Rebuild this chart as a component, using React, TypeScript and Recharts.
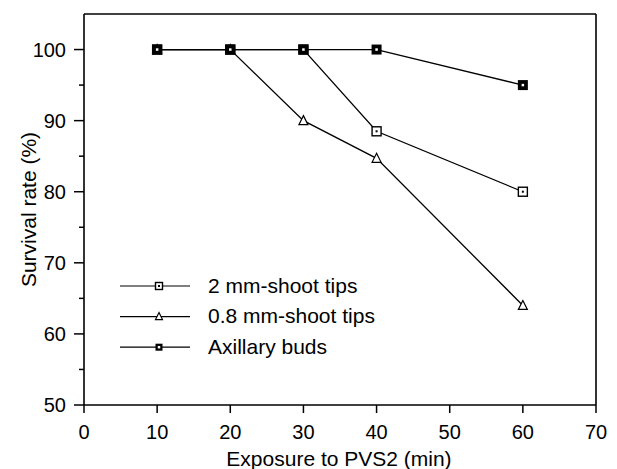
import {
  Label,
  Legend,
  Line,
  LineChart,
  ReferenceLine,
  XAxis,
  YAxis,
} from "recharts";

const FONT = "'Liberation Sans', Arial, Helvetica, sans-serif";

// exposure time to PVS2 (min)
const exposure = [10, 20, 30, 40, 60];
// survival rate (%)
const shootTips2mm = [100, 100, 100, 88.5, 80];
const shootTips08mm = [100, 100, 90, 84.7, 64];
const axillaryBuds = [100, 100, 100, 100, 95];

const xTicks = [0, 10, 20, 30, 40, 50, 60, 70];
const yTicks = [50, 55, 60, 65, 70, 75, 80, 85, 90, 95, 100];

const data = exposure.map((x, i) => ({
  x,
  shoot2: shootTips2mm[i],
  shoot08: shootTips08mm[i],
  buds: axillaryBuds[i],
}));

type Kind = "open" | "triangle" | "filled";

const legendItems: { name: string; kind: Kind }[] = [
  { name: "2 mm-shoot tips", kind: "open" },
  { name: "0.8 mm-shoot tips", kind: "triangle" },
  { name: "Axillary buds", kind: "filled" },
];

function Mark({ kind, cx, cy, size }: { kind: Kind; cx: number; cy: number; size: number }) {
  const h = size / 2;
  if (kind === "triangle") {
    return (
      <path
        d={`M${cx},${cy - h - 0.5} L${cx + h},${cy + h - 0.5} L${cx - h},${cy + h - 0.5} Z`}
        fill="#fff"
        stroke="#000"
        strokeWidth={1.2}
      />
    );
  }
  if (kind === "open") {
    return (
      <g>
        <rect x={cx - h} y={cy - h} width={size} height={size} fill="#fff" stroke="#000" strokeWidth={1.4} />
        <rect x={cx - 1} y={cy - 1} width={2} height={2} fill="#000" />
      </g>
    );
  }
  return (
    <g>
      <rect x={cx - h} y={cy - h} width={size} height={size} fill="#000" />
      <rect x={cx - 1.25} y={cy - 1.25} width={2.5} height={2.5} fill="#fff" />
    </g>
  );
}

const dotFor = (kind: Kind, size: number) => (p: any) => {
  if (p.cx == null || p.cy == null) return <g key={p.key} />;
  return (
    <g key={p.key}>
      <Mark kind={kind} cx={p.cx} cy={p.cy} size={size} />
    </g>
  );
};

function YTick(props: any) {
  const { x, y, payload } = props;
  const major = payload.value % 10 === 0;
  return (
    <g>
      <line x1={x - (major ? 10 : 5)} x2={x} y1={y} y2={y} stroke="#000" strokeWidth={1.5} />
      {major && (
        <text x={x - 18} y={y + 7} textAnchor="end" fontSize={20} fontFamily={FONT} fill="#000">
          {payload.value}
        </text>
      )}
    </g>
  );
}

function LegendBox() {
  return (
    <svg width={280} height={95} style={{ display: "block" }}>
      {legendItems.map((it, i) => {
        const cy = 15 + i * 30.6;
        return (
          <g key={it.name}>
            <line x1={2} x2={72} y1={cy} y2={cy} stroke="#000" strokeWidth={1.2} />
            <Mark kind={it.kind} cx={41} cy={cy} size={7} />
            <text x={90} y={cy + 6.5} fontSize={21} fontFamily={FONT} fill="#000">
              {it.name}
            </text>
          </g>
        );
      })}
    </svg>
  );
}

export default function App() {
  return (
    <div style={{ position: "absolute", left: 0, top: 0, background: "#fff" }}>
      <LineChart
        width={617}
        height={469}
        data={data}
        margin={{ top: 14, right: 21, left: 0, bottom: 0 }}
      >
        <XAxis
          type="number"
          dataKey="x"
          domain={[0, 70]}
          ticks={xTicks}
          interval={0}
          height={64}
          tickSize={8}
          tickMargin={12}
          axisLine={{ stroke: "#000", strokeWidth: 1.6 }}
          tickLine={{ stroke: "#000", strokeWidth: 1.5 }}
          tick={{ fill: "#000", fontSize: 20, fontFamily: FONT }}
        >
          <Label
            content={({ viewBox }: any) => (
              <text
                x={viewBox.x + viewBox.width / 2 - 1}
                y={viewBox.y + 61}
                textAnchor="middle"
                fontSize={21}
                fontFamily={FONT}
                fill="#000"
              >
                Exposure to PVS2 (min)
              </text>
            )}
          />
        </XAxis>
        <YAxis
          type="number"
          domain={[50, 105]}
          ticks={yTicks}
          interval={0}
          width={84}
          tickSize={0}
          tickMargin={0}
          tickLine={false}
          axisLine={{ stroke: "#000", strokeWidth: 1.6 }}
          tick={YTick}
        >
          <Label
            content={({ viewBox }: any) => {
              const cx = viewBox.x + 36;
              const cy = viewBox.y + viewBox.height / 2;
              return (
                <text
                  x={cx}
                  y={cy}
                  transform={`rotate(-90, ${cx}, ${cy})`}
                  textAnchor="middle"
                  fontSize={21}
                  fontFamily={FONT}
                  fill="#000"
                >
                  Survival rate (%)
                </text>
              );
            }}
          />
        </YAxis>
        <ReferenceLine y={105} stroke="#000" strokeWidth={1.6} />
        <ReferenceLine x={70} stroke="#000" strokeWidth={1.6} />
        <Legend
          layout="vertical"
          align="center"
          verticalAlign="middle"
          wrapperStyle={{ left: 118, top: 271, width: 280 }}
          content={() => <LegendBox />}
        />
        <Line
          dataKey="shoot08"
          name="0.8 mm-shoot tips"
          stroke="#000"
          strokeWidth={1.3}
          dot={dotFor("triangle", 9)}
          activeDot={false}
          isAnimationActive={false}
        />
        <Line
          dataKey="shoot2"
          name="2 mm-shoot tips"
          stroke="#000"
          strokeWidth={1.3}
          dot={dotFor("open", 9)}
          activeDot={false}
          isAnimationActive={false}
        />
        <Line
          dataKey="buds"
          name="Axillary buds"
          stroke="#000"
          strokeWidth={1.3}
          dot={dotFor("filled", 10)}
          activeDot={false}
          isAnimationActive={false}
        />
      </LineChart>
    </div>
  );
}
